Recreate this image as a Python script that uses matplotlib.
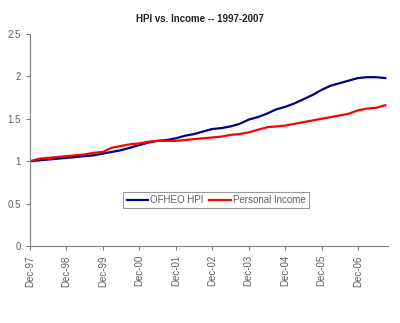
import matplotlib
matplotlib.use("Agg")
import matplotlib.pyplot as plt
import numpy as np

# quarterly index values, Dec-97 = 1.0
hpi = [1.00, 1.01, 1.02, 1.03, 1.04, 1.05, 1.06, 1.07, 1.09, 1.11,
       1.13, 1.16, 1.19, 1.22, 1.24, 1.25, 1.27, 1.30, 1.32, 1.35,
       1.38, 1.39, 1.41, 1.44, 1.49, 1.52, 1.56, 1.61, 1.64, 1.68,
       1.73, 1.78, 1.84, 1.89, 1.92, 1.95, 1.98, 1.99, 1.99, 1.98]
income = [1.00, 1.03, 1.04, 1.05, 1.06, 1.07, 1.08, 1.10, 1.11, 1.16,
          1.18, 1.20, 1.21, 1.23, 1.24, 1.24, 1.24, 1.25, 1.26, 1.27,
          1.28, 1.29, 1.31, 1.32, 1.34, 1.37, 1.40, 1.41, 1.42, 1.44,
          1.46, 1.48, 1.50, 1.52, 1.54, 1.56, 1.60, 1.62, 1.63, 1.66]
tick_labels = ["Dec-97", "Dec-98", "Dec-99", "Dec-00", "Dec-01",
               "Dec-02", "Dec-03", "Dec-04", "Dec-05", "Dec-06"]

plt.rcParams['font.family'] = ['Liberation Sans', 'DejaVu Sans']

fig = plt.figure(figsize=(4, 3.23), dpi=100)
ax = fig.add_axes([0.075, 0.238, 0.895, 0.657])

x = np.arange(len(hpi))
ax.plot(x, hpi, color='#000080', lw=1.6, label='OFHEO HPI')
ax.plot(x, income, color='#ff0000', lw=1.6, label='Personal Income')

ax.set_xlim(0, 39.3)
ax.set_ylim(0, 2.5)
ax.set_yticks([0, 0.5, 1, 1.5, 2, 2.5])
ax.set_yticklabels(['0', '0.5', '1', '1.5', '2', '2.5'])
ax.set_xticks(np.arange(0, 40, 4))
ax.set_xticklabels(tick_labels, rotation=90)

for s in ['top', 'right']:
    ax.spines[s].set_visible(False)
for s in ['left', 'bottom']:
    ax.spines[s].set_color('#808080')
    ax.spines[s].set_linewidth(0.8)
ax.tick_params(axis='both', colors='#808080', labelcolor='#606060',
               labelsize=7, length=3, width=0.8)

fig.text(0.5, 0.941, 'HPI vs. Income -- 1997-2007', fontsize=7,
         fontweight='bold', color='#222222', ha='center', va='center')

leg = ax.legend(loc='center', bbox_to_anchor=(0.52, 0.217), ncol=2,
                fontsize=7, frameon=True, fancybox=False, handlelength=2.2,
                handletextpad=0.2, columnspacing=0.6, borderpad=0.35,
                edgecolor='#808080')
leg.get_frame().set_linewidth(0.8)
for t in leg.get_texts():
    t.set_color('#606060')

fig.savefig('out.png', dpi=100)
